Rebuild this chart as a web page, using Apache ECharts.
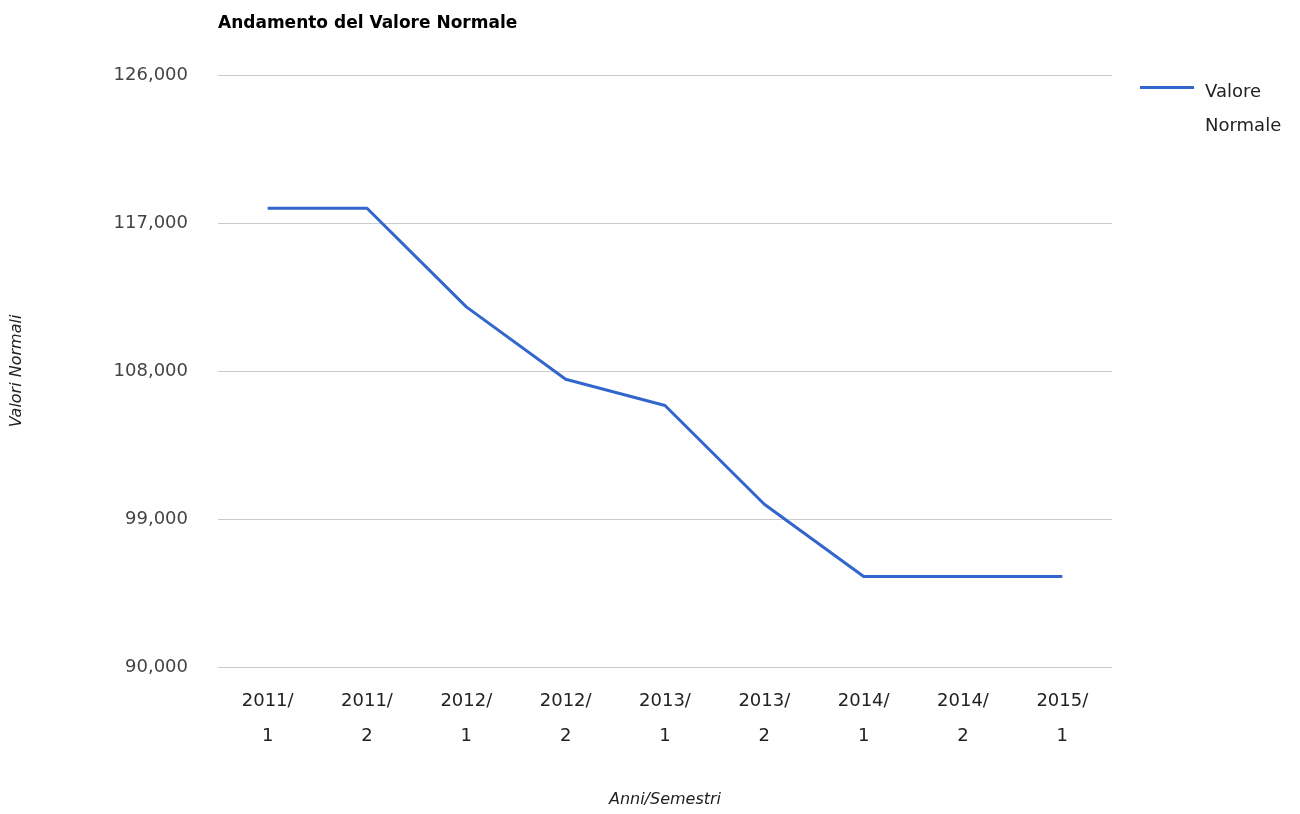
<!DOCTYPE html>
<html>
<head>
<meta charset="utf-8">
<script src="https://cdn.jsdelivr.net/npm/echarts@6/dist/echarts.min.js"></script>
<style>
  html, body { margin: 0; padding: 0; background: #fff; }
  #main { width: 1300px; height: 814px; }
</style>
</head>
<body>
<div id="main"></div>
<script>
// semestri e valori
var semestri = ['2011/1', '2011/2', '2012/1', '2012/2', '2013/1', '2013/2', '2014/1', '2014/2', '2015/1'];
var valoriNormali = [117900, 117900, 111900, 107500, 105900, 99900, 95500, 95500, 95500];
var yTicks = [90000, 99000, 108000, 117000, 126000];

var myChart = echarts.init(document.getElementById('main'));

var option = {
    animation: false,
    backgroundColor: '#fff',
    title: {
        text: 'Andamento del Valore Normale',
        left: 213,
        top: 10,
        textStyle: { fontFamily: 'DejaVu Sans', fontWeight: 'bold', fontSize: 17, color: '#000' }
    },
    legend: {
        data: ['Valore Normale'],
        left: 1140,
        top: 32,
        padding: 0,
        icon: 'rect',
        itemWidth: 54,
        itemHeight: 3,
        // riga vuota in testa per allineare "Valore" alla linea del simbolo
        formatter: function (name) {
            return '{s| }\n{a|' + name.split(' ').join('}\n{a|') + '}';
        },
        textStyle: {
            fontFamily: 'DejaVu Sans', fontSize: 18, color: '#222',
            rich: {
                s: { height: 43, lineHeight: 43, fontSize: 18 },
                a: { fontFamily: 'DejaVu Sans', fontSize: 18, color: '#222', lineHeight: 34, padding: [0, 0, 0, 6] }
            }
        }
    },
    grid: { left: 218, right: 188, top: 75, bottom: 147 },
    xAxis: {
        type: 'category',
        data: semestri,
        boundaryGap: true,
        name: 'Anni/Semestri',
        nameLocation: 'middle',
        nameGap: 125,
        nameTextStyle: { fontFamily: 'DejaVu Sans', fontStyle: 'italic', fontSize: 16, color: '#222' },
        axisLine: { show: false },
        axisTick: { show: false },
        axisLabel: {
            interval: 0,
            margin: 17,
            fontFamily: 'DejaVu Sans', fontSize: 18, color: '#222', lineHeight: 35,
            formatter: function (v) { return v.replace('/', '/\n'); }
        }
    },
    yAxis: {
        type: 'value',
        min: yTicks[0],
        max: yTicks[yTicks.length - 1],
        interval: yTicks[1] - yTicks[0],
        name: 'Valori Normali',
        nameLocation: 'middle',
        nameGap: 193,
        nameTextStyle: { fontFamily: 'DejaVu Sans', fontStyle: 'italic', fontSize: 16, color: '#222' },
        axisLine: { show: false },
        axisTick: { show: false },
        splitLine: { lineStyle: { color: '#cccccc', width: 1 } },
        axisLabel: {
            margin: 30,
            fontFamily: 'DejaVu Sans', fontSize: 18, color: '#444',
            formatter: function (v) { return v.toLocaleString('en-US'); }
        }
    },
    series: [
        {
            type: 'line',
            name: 'Valore Normale',
            data: valoriNormali,
            symbol: 'none',
            color: '#3366cc',
            lineStyle: { width: 3, color: '#3366cc' }
        }
    ]
};

myChart.setOption(option);
</script>
</body>
</html>
